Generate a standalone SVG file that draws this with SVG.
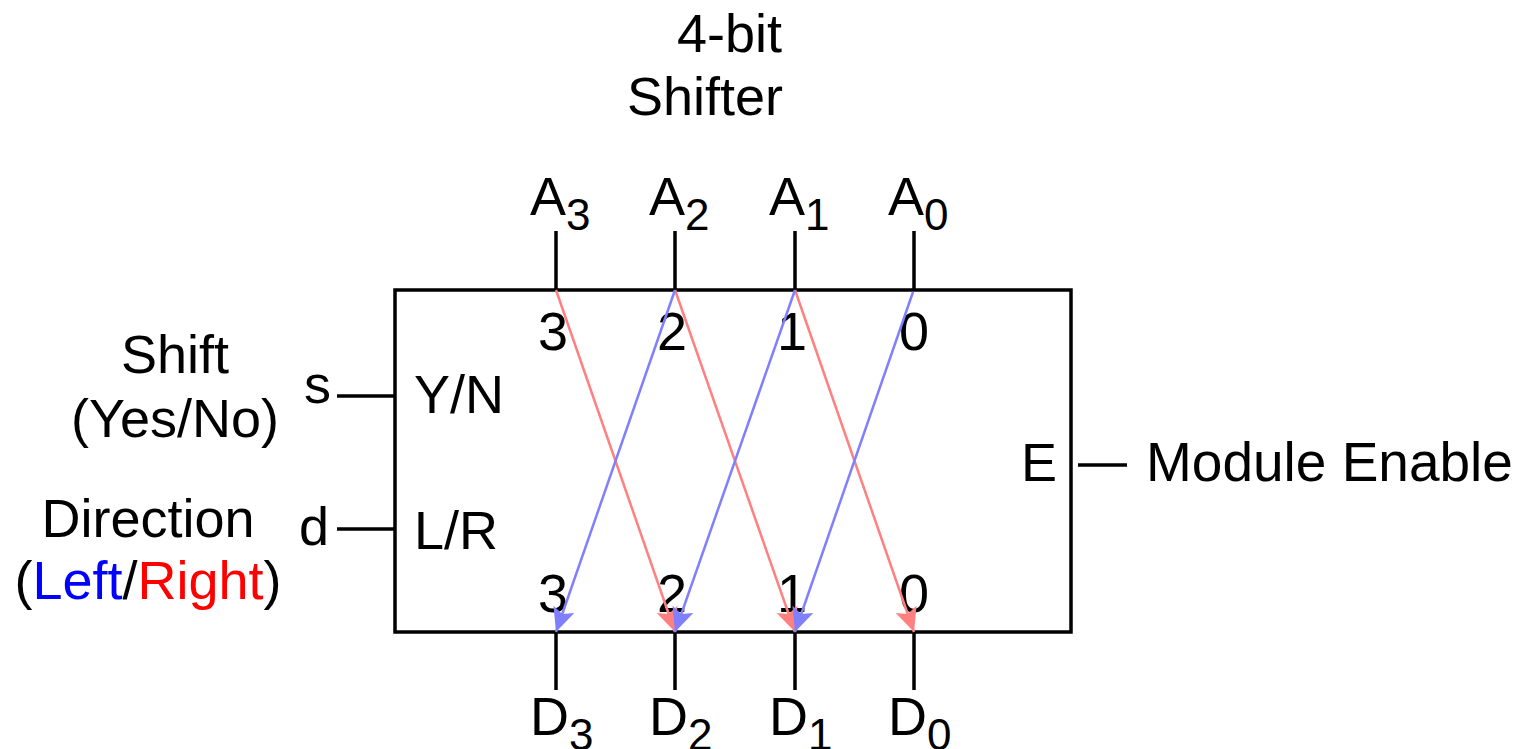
<svg xmlns="http://www.w3.org/2000/svg" width="1526" height="749" viewBox="0 0 1526 749">
<style>
text{font-family:"Liberation Sans",Arial,sans-serif;font-size:54px;fill:#000}
.sub{font-size:44px}
.mid{text-anchor:middle}
.wire{stroke:#000;stroke-width:3.5;fill:none}
.red{stroke:#FF8080;stroke-width:2.5;fill:none}
.blue{stroke:#8080FF;stroke-width:2.5;fill:none}
</style>
<defs>
<marker id="ar" markerUnits="userSpaceOnUse" markerWidth="26" markerHeight="26" viewBox="0 0 26 26" refX="24" refY="13" orient="auto"><path d="M0,2 L24,13 L0,24 L5,13 Z" fill="#FF8080"/></marker>
<marker id="ab" markerUnits="userSpaceOnUse" markerWidth="26" markerHeight="26" viewBox="0 0 26 26" refX="24" refY="13" orient="auto"><path d="M0,2 L24,13 L0,24 L5,13 Z" fill="#8080FF"/></marker>
</defs>
<rect fill="#fff" x="0" y="0" width="1526" height="749"/>
<g id="title">
<text x="677" y="52">4-bit</text>
<text x="627" y="115">Shifter</text>
</g>
<g id="shifter">
<rect class="wire" x="395" y="290" width="676" height="342"/>
<text class="mid" x="553" y="350">3</text>
<text class="mid" x="672" y="350">2</text>
<text class="mid" x="792" y="350">1</text>
<text class="mid" x="914" y="350">0</text>
<text class="mid" x="553" y="612">3</text>
<text class="mid" x="672" y="612">2</text>
<text class="mid" x="792" y="612">1</text>
<text class="mid" x="914" y="612">0</text>
<text x="414" y="413">Y/N</text>
<text x="414" y="549">L/R</text>
<text x="1021" y="481">E</text>
</g>
<g id="inputs">
<g id="A3"><text x="530" y="215">A<tspan class="sub" dy="15">3</tspan></text></g>
<g id="A2"><text x="649" y="215">A<tspan class="sub" dy="15">2</tspan></text></g>
<g id="A1"><text x="769" y="215">A<tspan class="sub" dy="15">1</tspan></text></g>
<g id="A0"><text x="888" y="215">A<tspan class="sub" dy="15">0</tspan></text></g>
</g>
<g id="outputs">
<g id="D3"><text x="530" y="735">D<tspan class="sub" dy="15">3</tspan></text></g>
<g id="D2"><text x="649" y="735">D<tspan class="sub" dy="15">2</tspan></text></g>
<g id="D1"><text x="769" y="735">D<tspan class="sub" dy="15">1</tspan></text></g>
<g id="D0"><text x="888" y="735">D<tspan class="sub" dy="15">0</tspan></text></g>
</g>
<g id="shift-label">
<text class="mid" x="175" y="373">Shift</text>
<text class="mid" x="175" y="437">(Yes/No)</text>
<text x="304" y="403">s</text>
</g>
<g id="direction-label">
<text class="mid" x="148" y="537">Direction</text>
<text class="mid" x="148" y="599">(<tspan fill="#0000FF">Left</tspan>/<tspan fill="#FF0000">Right</tspan>)</text>
<text x="299" y="545">d</text>
</g>
<g id="enable-label">
<text x="1146" y="481" style="font-size:55px">Module Enable</text>
</g>
<g id="connectors">
<line class="wire" x1="556" y1="231" x2="556" y2="290"/>
<line class="wire" x1="675" y1="231" x2="675" y2="290"/>
<line class="wire" x1="795" y1="231" x2="795" y2="290"/>
<line class="wire" x1="914" y1="231" x2="914" y2="290"/>
<line class="wire" x1="556" y1="632" x2="556" y2="690"/>
<line class="wire" x1="675" y1="632" x2="675" y2="690"/>
<line class="wire" x1="795" y1="632" x2="795" y2="690"/>
<line class="wire" x1="914" y1="632" x2="914" y2="690"/>
<line class="wire" x1="337" y1="396" x2="395" y2="396"/>
<line class="wire" x1="337" y1="529" x2="395" y2="529"/>
<line class="wire" x1="1078" y1="465" x2="1127" y2="465"/>
<line class="red" x1="556" y1="290" x2="675" y2="632" marker-end="url(#ar)"/>
<line class="red" x1="675" y1="290" x2="795" y2="632" marker-end="url(#ar)"/>
<line class="red" x1="795" y1="290" x2="914" y2="632" marker-end="url(#ar)"/>
<line class="blue" x1="675" y1="290" x2="556" y2="632" marker-end="url(#ab)"/>
<line class="blue" x1="795" y1="290" x2="675" y2="632" marker-end="url(#ab)"/>
<line class="blue" x1="913" y1="292" x2="795" y2="632" marker-end="url(#ab)"/>
</g>
</svg>
